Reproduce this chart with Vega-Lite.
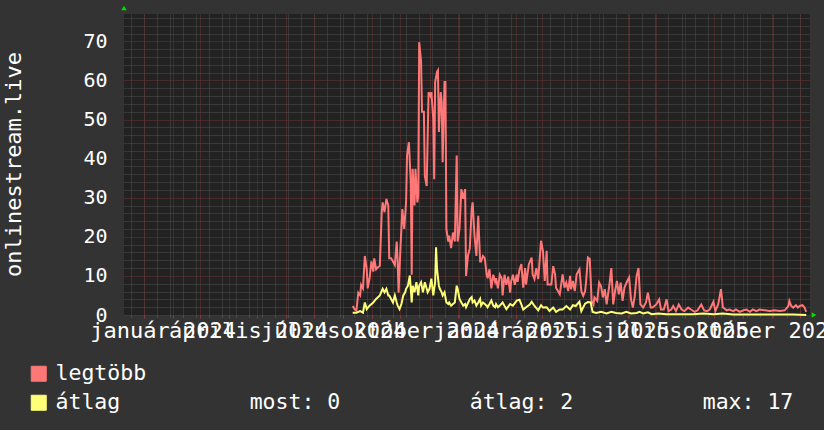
{
  "$schema": "https://vega.github.io/schema/vega-lite/v6.json",
  "width": 686,
  "height": 301,
  "autosize": {"type": "none"},
  "padding": {"left": 124, "top": 14, "right": 14, "bottom": 115},
  "background": "#333333",
  "datasets": {
    "legtobb": [
      {"d":"2024-08-11","v":2.3},{"d":"2024-08-13","v":1.5},{"d":"2024-08-15","v":1.1},{"d":"2024-08-17","v":5.7},{"d":"2024-08-19","v":5.0},{"d":"2024-08-20","v":7.7},{"d":"2024-08-22","v":6.8},{"d":"2024-08-24","v":15.1},{"d":"2024-08-26","v":11.7},{"d":"2024-08-27","v":6.8},{"d":"2024-08-29","v":9.4},{"d":"2024-08-31","v":13.7},
      {"d":"2024-09-02","v":11.1},{"d":"2024-09-03","v":14.5},{"d":"2024-09-05","v":11.7},{"d":"2024-09-07","v":12.2},{"d":"2024-09-09","v":12.6},{"d":"2024-09-11","v":26.3},{"d":"2024-09-12","v":28.8},{"d":"2024-09-14","v":26.3},{"d":"2024-09-16","v":29.7},{"d":"2024-09-18","v":28},{"d":"2024-09-19","v":14.5},{"d":"2024-09-21","v":14.5},{"d":"2024-09-23","v":13.7},{"d":"2024-09-25","v":12.8},{"d":"2024-09-27","v":18.8},{"d":"2024-09-28","v":13.7},{"d":"2024-09-29","v":5.7},
      {"d":"2024-10-01","v":17.1},{"d":"2024-10-03","v":27.1},{"d":"2024-10-05","v":22},{"d":"2024-10-07","v":28.8},{"d":"2024-10-08","v":40.8},{"d":"2024-10-10","v":44.2},{"d":"2024-10-12","v":33.9},{"d":"2024-10-13","v":10.3},{"d":"2024-10-14","v":37.4},{"d":"2024-10-16","v":28},{"d":"2024-10-17","v":37.4},{"d":"2024-10-19","v":28.8},{"d":"2024-10-20","v":30.5},{"d":"2024-10-21","v":69.8},{"d":"2024-10-23","v":64.8},{"d":"2024-10-24","v":52},{"d":"2024-10-26","v":52},{"d":"2024-10-27","v":35.6},{"d":"2024-10-29","v":33},{"d":"2024-10-30","v":45},{"d":"2024-10-31","v":57},
      {"d":"2024-11-02","v":56},{"d":"2024-11-03","v":57},{"d":"2024-11-05","v":50.2},{"d":"2024-11-06","v":34.7},{"d":"2024-11-07","v":59.6},{"d":"2024-11-09","v":62.2},{"d":"2024-11-10","v":62.6},{"d":"2024-11-11","v":46.8},{"d":"2024-11-13","v":57},{"d":"2024-11-14","v":54.4},{"d":"2024-11-15","v":39.1},{"d":"2024-11-17","v":59.6},{"d":"2024-11-18","v":59.6},{"d":"2024-11-19","v":22},{"d":"2024-11-21","v":18.8},{"d":"2024-11-22","v":20.3},{"d":"2024-11-24","v":17.1},{"d":"2024-11-26","v":21.1},{"d":"2024-11-28","v":18.8},{"d":"2024-11-30","v":40.8},
      {"d":"2024-12-01","v":18.8},{"d":"2024-12-03","v":22},{"d":"2024-12-05","v":32.2},{"d":"2024-12-07","v":29.7},{"d":"2024-12-09","v":32.2},{"d":"2024-12-10","v":10},{"d":"2024-12-12","v":15.1},{"d":"2024-12-14","v":17.1},{"d":"2024-12-16","v":27.1},{"d":"2024-12-17","v":28.8},{"d":"2024-12-19","v":20.3},{"d":"2024-12-21","v":15.1},{"d":"2024-12-23","v":25.4},{"d":"2024-12-25","v":13.7},{"d":"2024-12-26","v":13.7},{"d":"2024-12-28","v":15.1},{"d":"2024-12-30","v":14.5},
      {"d":"2025-01-01","v":10.3},{"d":"2025-01-02","v":9.4},{"d":"2025-01-04","v":11.7},{"d":"2025-01-06","v":6.8},{"d":"2025-01-08","v":10.3},{"d":"2025-01-10","v":8.5},{"d":"2025-01-11","v":9.4},{"d":"2025-01-13","v":6.8},{"d":"2025-01-15","v":10.3},{"d":"2025-01-17","v":9.4},{"d":"2025-01-18","v":5},{"d":"2025-01-20","v":10.3},{"d":"2025-01-22","v":7.7},{"d":"2025-01-24","v":9.8},{"d":"2025-01-26","v":5.7},{"d":"2025-01-27","v":8.5},{"d":"2025-01-29","v":10.3},{"d":"2025-01-31","v":7.7},
      {"d":"2025-02-02","v":10.3},{"d":"2025-02-03","v":8.5},{"d":"2025-02-05","v":11.6},{"d":"2025-02-07","v":13},{"d":"2025-02-09","v":7},{"d":"2025-02-11","v":12},{"d":"2025-02-12","v":7.8},{"d":"2025-02-15","v":13},{"d":"2025-02-18","v":14.7},{"d":"2025-02-19","v":10.4},{"d":"2025-02-21","v":9.2},{"d":"2025-02-23","v":12},{"d":"2025-02-25","v":9.2},{"d":"2025-02-27","v":15.6},{"d":"2025-02-28","v":19},
      {"d":"2025-03-02","v":16.4},{"d":"2025-03-04","v":8.7},{"d":"2025-03-06","v":16.4},{"d":"2025-03-07","v":7.8},{"d":"2025-03-11","v":7.8},{"d":"2025-03-13","v":12.5},{"d":"2025-03-15","v":10.4},{"d":"2025-03-16","v":7},{"d":"2025-03-20","v":5.3},{"d":"2025-03-23","v":10.4},{"d":"2025-03-25","v":7},{"d":"2025-03-27","v":8.3},{"d":"2025-03-29","v":6.1},{"d":"2025-03-31","v":10},
      {"d":"2025-04-01","v":6.6},{"d":"2025-04-03","v":8.7},{"d":"2025-04-05","v":6.1},{"d":"2025-04-07","v":10.4},{"d":"2025-04-10","v":11.7},{"d":"2025-04-12","v":6.1},{"d":"2025-04-14","v":4.9},{"d":"2025-04-16","v":6.1},{"d":"2025-04-17","v":8.3},{"d":"2025-04-19","v":14.7},{"d":"2025-04-21","v":14.3},{"d":"2025-04-23","v":3.6},{"d":"2025-04-25","v":2.7},{"d":"2025-04-26","v":4.5},{"d":"2025-04-29","v":3.6},
      {"d":"2025-05-01","v":8.3},{"d":"2025-05-03","v":7.4},{"d":"2025-05-05","v":4.5},{"d":"2025-05-07","v":6.6},{"d":"2025-05-09","v":2.7},{"d":"2025-05-12","v":7.8},{"d":"2025-05-14","v":12},{"d":"2025-05-16","v":2.7},{"d":"2025-05-18","v":6.1},{"d":"2025-05-20","v":8.7},{"d":"2025-05-22","v":5.3},{"d":"2025-05-24","v":8.3},{"d":"2025-05-26","v":3.6},{"d":"2025-05-28","v":7},{"d":"2025-05-31","v":8.7},
      {"d":"2025-06-02","v":9.6},{"d":"2025-06-04","v":4},{"d":"2025-06-06","v":1.9},{"d":"2025-06-08","v":4.9},{"d":"2025-06-10","v":10},{"d":"2025-06-12","v":12},{"d":"2025-06-14","v":2.7},{"d":"2025-06-17","v":1.9},{"d":"2025-06-20","v":3.2},{"d":"2025-06-22","v":5.7},{"d":"2025-06-25","v":1.9},{"d":"2025-06-27","v":1.9},
      {"d":"2025-07-01","v":2.7},{"d":"2025-07-04","v":4},{"d":"2025-07-06","v":1.4},{"d":"2025-07-09","v":1.4},{"d":"2025-07-12","v":4},{"d":"2025-07-14","v":1},{"d":"2025-07-17","v":1.4},{"d":"2025-07-19","v":2.3},{"d":"2025-07-22","v":1},{"d":"2025-07-25","v":2.7},{"d":"2025-07-28","v":1.4},{"d":"2025-07-31","v":1},
      {"d":"2025-08-04","v":1.9},{"d":"2025-08-07","v":1.4},{"d":"2025-08-11","v":0.8},{"d":"2025-08-14","v":1.2},{"d":"2025-08-18","v":2.7},{"d":"2025-08-21","v":1.2},{"d":"2025-08-24","v":1},{"d":"2025-08-27","v":1.4},{"d":"2025-08-31","v":3.4},
      {"d":"2025-09-02","v":1},{"d":"2025-09-05","v":2.7},{"d":"2025-09-08","v":6.6},{"d":"2025-09-10","v":2},{"d":"2025-09-14","v":1.2},{"d":"2025-09-17","v":1.4},{"d":"2025-09-21","v":1},{"d":"2025-09-24","v":1.4},{"d":"2025-09-28","v":0.8},
      {"d":"2025-10-02","v":1.2},{"d":"2025-10-05","v":1.4},{"d":"2025-10-09","v":0.8},{"d":"2025-10-12","v":1.4},{"d":"2025-10-16","v":1},{"d":"2025-10-19","v":1.4},{"d":"2025-10-25","v":1.2},{"d":"2025-10-30","v":1},
      {"d":"2025-11-04","v":1.2},{"d":"2025-11-10","v":1},{"d":"2025-11-15","v":1.2},{"d":"2025-11-19","v":2.3},{"d":"2025-11-20","v":3.6},{"d":"2025-11-22","v":2.3},{"d":"2025-11-24","v":1.9},{"d":"2025-11-27","v":2.5},{"d":"2025-11-29","v":1.9},
      {"d":"2025-12-01","v":2.3},{"d":"2025-12-04","v":2.5},{"d":"2025-12-06","v":2},{"d":"2025-12-08","v":0.8}
    ],
    "atlag": [
      {"d":"2024-08-11","v":0.6},{"d":"2024-08-15","v":0.6},{"d":"2024-08-19","v":1},{"d":"2024-08-22","v":0.6},{"d":"2024-08-24","v":3.2},{"d":"2024-08-26","v":1.5},{"d":"2024-08-29","v":2.4},
      {"d":"2024-09-02","v":3.2},{"d":"2024-09-05","v":4.1},{"d":"2024-09-09","v":5},{"d":"2024-09-12","v":6.7},{"d":"2024-09-14","v":5.8},{"d":"2024-09-16","v":6.7},{"d":"2024-09-18","v":5},{"d":"2024-09-19","v":5},{"d":"2024-09-21","v":4.1},{"d":"2024-09-23","v":3.2},{"d":"2024-09-25","v":5},{"d":"2024-09-27","v":3.2},{"d":"2024-09-28","v":2.4},{"d":"2024-09-30","v":1.5},
      {"d":"2024-10-02","v":2.8},{"d":"2024-10-04","v":5},{"d":"2024-10-06","v":5.8},{"d":"2024-10-07","v":6.7},{"d":"2024-10-09","v":7.5},{"d":"2024-10-11","v":10.1},{"d":"2024-10-13","v":3.2},{"d":"2024-10-14","v":7.5},{"d":"2024-10-16","v":5.8},{"d":"2024-10-18","v":8.4},{"d":"2024-10-20","v":5},{"d":"2024-10-21","v":7.5},{"d":"2024-10-23","v":8.4},{"d":"2024-10-25","v":5.8},{"d":"2024-10-27","v":8.4},{"d":"2024-10-29","v":6.7},{"d":"2024-10-30","v":5.8},
      {"d":"2024-11-01","v":6.7},{"d":"2024-11-03","v":9.3},{"d":"2024-11-05","v":5},{"d":"2024-11-07","v":8.4},{"d":"2024-11-08","v":17.3},{"d":"2024-11-09","v":11.8},{"d":"2024-11-11","v":7.5},{"d":"2024-11-12","v":6.7},{"d":"2024-11-14","v":5.8},{"d":"2024-11-15","v":5},{"d":"2024-11-17","v":5.8},{"d":"2024-11-19","v":3.2},{"d":"2024-11-21","v":2.8},{"d":"2024-11-22","v":3.2},{"d":"2024-11-24","v":2.4},{"d":"2024-11-26","v":2.8},{"d":"2024-11-28","v":3.2},{"d":"2024-11-30","v":7.5},
      {"d":"2024-12-01","v":6.7},{"d":"2024-12-03","v":4.1},{"d":"2024-12-05","v":3.2},{"d":"2024-12-07","v":2.4},{"d":"2024-12-09","v":2.8},{"d":"2024-12-10","v":2},{"d":"2024-12-14","v":4.1},{"d":"2024-12-16","v":4.6},{"d":"2024-12-17","v":3.2},{"d":"2024-12-19","v":3.7},{"d":"2024-12-21","v":2.4},{"d":"2024-12-23","v":3.2},{"d":"2024-12-25","v":4.1},{"d":"2024-12-26","v":2.4},{"d":"2024-12-28","v":3.2},{"d":"2024-12-30","v":2.8},
      {"d":"2025-01-01","v":2.4},{"d":"2025-01-02","v":2},{"d":"2025-01-04","v":2.8},{"d":"2025-01-06","v":3.7},{"d":"2025-01-08","v":2.4},{"d":"2025-01-10","v":2},{"d":"2025-01-11","v":2.8},{"d":"2025-01-13","v":2},{"d":"2025-01-15","v":2.4},{"d":"2025-01-18","v":3.2},{"d":"2025-01-22","v":1.5},{"d":"2025-01-26","v":2.8},{"d":"2025-01-29","v":2.4},
      {"d":"2025-02-02","v":3.7},{"d":"2025-02-05","v":3.9},{"d":"2025-02-07","v":2.7},{"d":"2025-02-09","v":1.4},{"d":"2025-02-12","v":2},{"d":"2025-02-16","v":2.7},{"d":"2025-02-18","v":3.4},{"d":"2025-02-21","v":2.3},{"d":"2025-02-25","v":1.2},{"d":"2025-02-28","v":2.5},
      {"d":"2025-03-02","v":1.9},{"d":"2025-03-06","v":2},{"d":"2025-03-09","v":1},{"d":"2025-03-13","v":1.9},{"d":"2025-03-16","v":0.8},{"d":"2025-03-20","v":1.4},{"d":"2025-03-23","v":1.4},{"d":"2025-03-27","v":2.3},{"d":"2025-03-31","v":1.4},
      {"d":"2025-04-03","v":2.5},{"d":"2025-04-06","v":2.3},{"d":"2025-04-10","v":3.4},{"d":"2025-04-12","v":1},{"d":"2025-04-16","v":2.9},{"d":"2025-04-19","v":3.3},{"d":"2025-04-22","v":3.2},{"d":"2025-04-24","v":0.8},{"d":"2025-04-28","v":0.5},
      {"d":"2025-05-03","v":0.8},{"d":"2025-05-09","v":0.4},{"d":"2025-05-14","v":0.8},{"d":"2025-05-19","v":0.5},{"d":"2025-05-25","v":0.4},{"d":"2025-05-30","v":0.8},
      {"d":"2025-06-04","v":0.4},{"d":"2025-06-10","v":0.5},{"d":"2025-06-13","v":0.8},{"d":"2025-06-17","v":0.4},{"d":"2025-06-22","v":0.7},{"d":"2025-06-26","v":0.2},
      {"d":"2025-07-03","v":0.4},{"d":"2025-07-12","v":0.2},{"d":"2025-07-26","v":0.2},{"d":"2025-08-09","v":0.2},{"d":"2025-08-20","v":0.4},{"d":"2025-08-31","v":0.2},{"d":"2025-09-10","v":0.4},{"d":"2025-09-21","v":0.1},{"d":"2025-10-12","v":0.1},{"d":"2025-11-03","v":0.1},{"d":"2025-11-24","v":0.1},{"d":"2025-12-08","v":0}
    ]
  },
  "layer": [
    {
      "data": {"name": "legtobb"},
      "mark": {"type": "line", "strokeWidth": 2, "interpolate": "linear"},
      "encoding": {
        "x": {
          "field": "d", "type": "temporal",
          "scale": {"type": "utc", "domain": [1702252800000, 1765497600000], "nice": false},
          "axis": {
            "orient": "bottom", "labels": false, "title": null, "domain": false,
            "values": [1702857600000,1704067200000,1705276800000,1706486400000,1707696000000,1708905600000,1710115200000,1711324800000,1712534400000,1713744000000,1714953600000,1716163200000,1717372800000,1718582400000,1719792000000,1721001600000,1722211200000,1723420800000,1724630400000,1725840000000,1727049600000,1728259200000,1729468800000,1730678400000,1731888000000,1733097600000,1734307200000,1735516800000,1736726400000,1737936000000,1739145600000,1740355200000,1741564800000,1742774400000,1743984000000,1745193600000,1746403200000,1747612800000,1748822400000,1750032000000,1751241600000,1752451200000,1753660800000,1754870400000,1756080000000,1757289600000,1758499200000,1759708800000,1760918400000,1762128000000,1763337600000,1764547200000],
            "grid": true, "gridColor": "#4e4e4e", "gridDash": [1, 1], "gridWidth": 1, "gridOpacity": 1,
            "ticks": true, "tickColor": "#555555", "tickSize": 2
          }
        },
        "y": {
          "field": "v", "type": "quantitative",
          "scale": {"domain": [0, 77], "nice": false, "zero": true},
          "axis": {
            "orient": "left", "labels": false, "title": null, "domain": false, "ticks": false,
            "values": [2,4,6,8,12,14,16,18,22,24,26,28,32,34,36,38,42,44,46,48,52,54,56,58,62,64,66,68,72,74,76],
            "grid": true, "gridColor": "#4e4e4e", "gridDash": [1, 1], "gridWidth": 1, "gridOpacity": 1
          }
        },
        "color": {
          "datum": "legtöbb",
          "scale": {"domain": ["legtöbb", "átlag"], "range": ["#ff7777", "#ffff77"]},
          "legend": {
            "orient": "none", "legendX": -96, "legendY": 349,
            "title": null, "direction": "vertical", "padding": 0,
            "symbolType": "square", "symbolSize": 225, "symbolStrokeWidth": 1,
            "rowPadding": 6, "labelOffset": 6,
            "labelFont": "DejaVu Sans Mono", "labelFontSize": 21.5, "labelColor": "#ffffff", "labelLimit": 0,
            "labelExpr": "datum.label == 'átlag' ? 'átlag\u00a0\u00a0\u00a0\u00a0\u00a0\u00a0\u00a0\u00a0\u00a0\u00a0most: 0\u00a0\u00a0\u00a0\u00a0\u00a0\u00a0\u00a0\u00a0\u00a0\u00a0átlag: 2\u00a0\u00a0\u00a0\u00a0\u00a0\u00a0\u00a0\u00a0\u00a0\u00a0max: 17' : datum.label",
            "encode": {
              "symbols": {"update": {"fill": {"scale": "color", "field": "value"}, "stroke": {"value": "#000000"}, "strokeWidth": {"value": 1}, "opacity": {"value": 1}}}
            }
          }
        }
      }
    },
    {
      "data": {"name": "atlag"},
      "mark": {"type": "line", "strokeWidth": 2, "interpolate": "linear"},
      "encoding": {
        "x": {
          "field": "d", "type": "temporal",
          "axis": {
            "orient": "bottom", "title": null, "domain": false,
            "values": [1704067200000,1706745600000,1709251200000,1711929600000,1714521600000,1717200000000,1719792000000,1722470400000,1725148800000,1727740800000,1730419200000,1733011200000,1735689600000,1738368000000,1740787200000,1743465600000,1746057600000,1748736000000,1751328000000,1754006400000,1756684800000,1759276800000,1761955200000,1764547200000],
            "grid": true, "gridColor": "#6e3232", "gridDash": [1, 1], "gridWidth": 1, "gridOpacity": 1,
            "ticks": true, "tickColor": "#8a3a3a", "tickSize": 3,
            "labelExpr": "utcmonth(datum.value) % 3 == 0 ? ['január','február','március','április','május','június','július','augusztus','szeptember','október','november','december'][utcmonth(datum.value)] + ' ' + utcyear(datum.value) : ''",
            "labelFont": "DejaVu Sans Mono", "labelFontSize": 22, "labelColor": "#ffffff",
            "labelAlign": "center", "labelBaseline": "top", "labelPadding": 2, "labelOffset": 19,
            "labelOverlap": false, "labelFlush": false, "labelBound": false
          }
        },
        "y": {
          "field": "v", "type": "quantitative",
          "axis": {
            "orient": "left", "domain": false, "ticks": false, "tickSize": 0,
            "values": [0,10,20,30,40,50,60,70],
            "grid": true, "gridColor": "#6e3232", "gridDash": [1, 1], "gridWidth": 1, "gridOpacity": 1,
            "labelFont": "DejaVu Sans Mono", "labelFontSize": 20, "labelColor": "#ffffff", "labelPadding": 17,
            "labelAlign": "right", "labelBaseline": "middle",
            "title": "onlinestream.live", "titleFont": "DejaVu Sans Mono", "titleFontSize": 22, "titleFontWeight": "normal", "titleColor": "#ffffff",
            "titleAngle": -90, "titleX": -111, "titleY": 150, "titleAlign": "center", "titleBaseline": "middle"
          }
        },
        "color": {"datum": "átlag"}
      }
    },
    {
      "data": {"values": [{}]},
      "mark": {"type": "point", "shape": "triangle-up", "filled": true, "color": "#00dd00", "size": 30, "opacity": 1, "yOffset": -6},
      "encoding": {
        "x": {"datum": 1702252800000, "type": "temporal", "axis": null},
        "y": {"datum": 77, "type": "quantitative", "axis": null}
      }
    },
    {
      "data": {"values": [{}]},
      "mark": {"type": "point", "shape": "triangle-right", "filled": true, "color": "#00dd00", "size": 30, "opacity": 1, "xOffset": 4},
      "encoding": {
        "x": {"datum": 1765497600000, "type": "temporal", "axis": null},
        "y": {"datum": 0, "type": "quantitative", "axis": null}
      }
    }
  ],
  "resolve": {"axis": {"x": "independent", "y": "independent"}},
  "config": {
    "view": {"fill": "#222222", "stroke": null},
    "font": "DejaVu Sans Mono",
    "axis": {"labelColor": "#ffffff", "titleColor": "#ffffff"}
  }
}
